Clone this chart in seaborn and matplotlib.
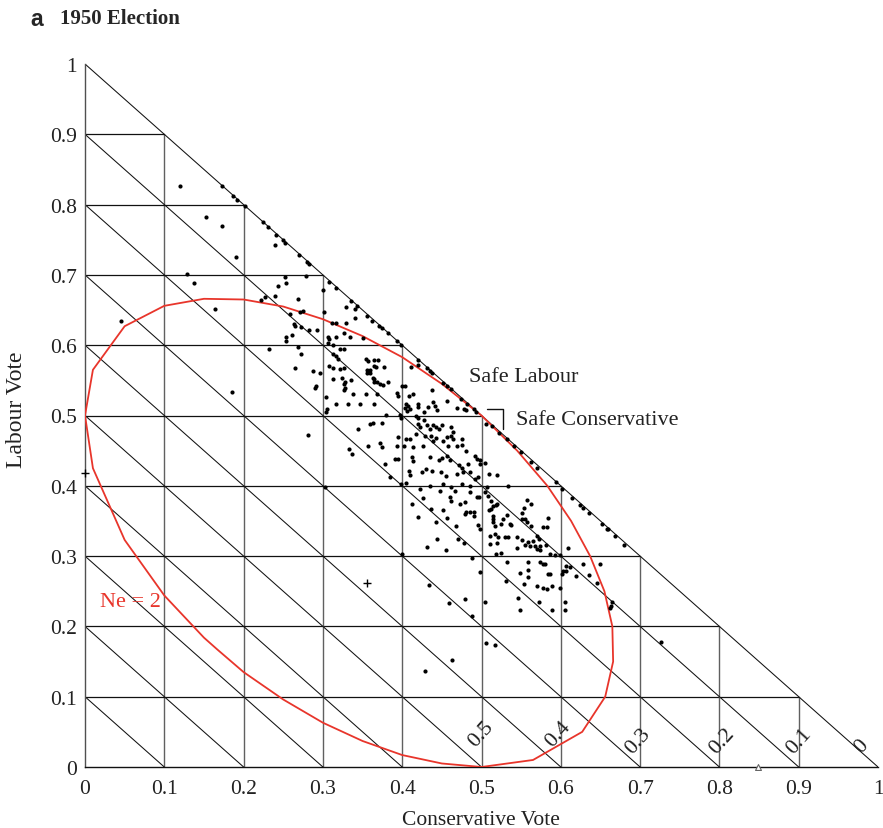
import matplotlib
matplotlib.use("Agg")
import matplotlib.pyplot as plt
import seaborn as sns
import pandas as pd

# ---------------- data ----------------
tick_values = [0, 0.1, 0.2, 0.3, 0.4, 0.5, 0.6, 0.7, 0.8, 0.9, 1]
tick_labels = ["0", "0.1", "0.2", "0.3", "0.4", "0.5", "0.6", "0.7", "0.8", "0.9", "1"]
other_vote_labels = ["0.5", "0.4", "0.3", "0.2", "0.1", "0"]

# Ne = 2 contour (Conservative, Labour) vertices
ne_con = [0, 0.01, 0.05, 0.10, 0.15, 0.20, 0.25, 0.30, 0.35, 0.40, 0.45, 0.50,
          0.545, 0.583, 0.613, 0.637, 0.655, 0.665, 0.666, 0.656, 0.627, 0.565, 0.50,
          0.45, 0.40, 0.35, 0.30, 0.25, 0.20, 0.167, 0.15, 0.10, 0.05, 0.01, 0]
ne_lab = [0.5, 0.565, 0.627, 0.656, 0.666, 0.665, 0.655, 0.637, 0.613, 0.583, 0.545, 0.50,
          0.45, 0.40, 0.35, 0.30, 0.25, 0.20, 0.15, 0.10, 0.05, 0.01, 0,
          0.005, 0.017, 0.037, 0.063, 0.096, 0.135, 0.167, 0.184, 0.244, 0.323, 0.425, 0.5]

# constituency results (Conservative share, Labour share)
seats = [
    (0.120, 0.827), (0.173, 0.827), (0.187, 0.812), (0.192, 0.807), (0.202, 0.798),
    (0.152, 0.783), (0.173, 0.770), (0.225, 0.775), (0.231, 0.768), (0.241, 0.757),
    (0.250, 0.749), (0.252, 0.746), (0.239, 0.743), (0.191, 0.726), (0.270, 0.728),
    (0.280, 0.719), (0.282, 0.716), (0.129, 0.701), (0.137, 0.688), (0.164, 0.651),
    (0.252, 0.697), (0.279, 0.698), (0.244, 0.684), (0.254, 0.688), (0.239, 0.670),
    (0.227, 0.668), (0.222, 0.664), (0.269, 0.666), (0.300, 0.679), (0.308, 0.690),
    (0.316, 0.682), (0.335, 0.663), (0.343, 0.656), (0.329, 0.655), (0.340, 0.651),
    (0.259, 0.644), (0.271, 0.647), (0.275, 0.649), (0.302, 0.647), (0.264, 0.630),
    (0.265, 0.628), (0.273, 0.626), (0.282, 0.621), (0.311, 0.632), (0.317, 0.632),
    (0.329, 0.632), (0.340, 0.638), (0.292, 0.622), (0.253, 0.612), (0.261, 0.615),
    (0.306, 0.611), (0.317, 0.611), (0.327, 0.618), (0.334, 0.611),
    (0.046, 0.634), (0.232, 0.595), (0.185, 0.534),
    (0.355, 0.642), (0.362, 0.635), (0.371, 0.627), (0.374, 0.624), (0.382, 0.617),
    (0.393, 0.606), (0.398, 0.600), (0.254, 0.606), (0.268, 0.598), (0.308, 0.609),
    (0.350, 0.610), (0.306, 0.603), (0.313, 0.600), (0.322, 0.595), (0.327, 0.595),
    (0.273, 0.587), (0.313, 0.587), (0.317, 0.585), (0.319, 0.581), (0.354, 0.581),
    (0.357, 0.578), (0.364, 0.579), (0.370, 0.579), (0.365, 0.571), (0.265, 0.567),
    (0.288, 0.564), (0.296, 0.560), (0.308, 0.571), (0.313, 0.567), (0.322, 0.566),
    (0.327, 0.568), (0.356, 0.565), (0.359, 0.565), (0.356, 0.561), (0.360, 0.561),
    (0.367, 0.569), (0.377, 0.569), (0.363, 0.554), (0.365, 0.552), (0.368, 0.547),
    (0.364, 0.547), (0.372, 0.545), (0.376, 0.543), (0.382, 0.547), (0.313, 0.552),
    (0.324, 0.554), (0.328, 0.547), (0.326, 0.545), (0.336, 0.550), (0.290, 0.539),
    (0.291, 0.542), (0.338, 0.531), (0.354, 0.531), (0.368, 0.531), (0.393, 0.532),
    (0.400, 0.542), (0.403, 0.542), (0.326, 0.536), (0.328, 0.539), (0.304, 0.527),
    (0.395, 0.528), (0.408, 0.528), (0.414, 0.531), (0.317, 0.516), (0.332, 0.516),
    (0.347, 0.516), (0.365, 0.516), (0.405, 0.516), (0.407, 0.513), (0.420, 0.516),
    (0.420, 0.512), (0.404, 0.510), (0.406, 0.507), (0.410, 0.509), (0.427, 0.505),
    (0.433, 0.512), (0.439, 0.519), (0.441, 0.514), (0.304, 0.505), (0.305, 0.509),
    (0.380, 0.501), (0.397, 0.501), (0.399, 0.497), (0.420, 0.497), (0.418, 0.500),
    (0.427, 0.493), (0.420, 0.579), (0.359, 0.488), (0.363, 0.489), (0.374, 0.489),
    (0.411, 0.569), (0.420, 0.572), (0.431, 0.567), (0.435, 0.563), (0.438, 0.560),
    (0.452, 0.546), (0.456, 0.542), (0.462, 0.538), (0.474, 0.523), (0.482, 0.517),
    (0.490, 0.509), (0.493, 0.505), (0.437, 0.536), (0.456, 0.520), (0.469, 0.511),
    (0.480, 0.508), (0.478, 0.509), (0.444, 0.508),
    (0.420, 0.488), (0.422, 0.483), (0.431, 0.486), (0.435, 0.481), (0.439, 0.486),
    (0.443, 0.484), (0.450, 0.487), (0.447, 0.481), (0.462, 0.483), (0.464, 0.477),
    (0.395, 0.469), (0.405, 0.467), (0.410, 0.467), (0.418, 0.474), (0.429, 0.471),
    (0.436, 0.471), (0.439, 0.464), (0.443, 0.468), (0.457, 0.469), (0.462, 0.471),
    (0.464, 0.466), (0.475, 0.467), (0.374, 0.455), (0.393, 0.457), (0.402, 0.456),
    (0.414, 0.455), (0.426, 0.457), (0.452, 0.464), (0.458, 0.457), (0.469, 0.457),
    (0.476, 0.458), (0.481, 0.450), (0.492, 0.442), (0.494, 0.438), (0.378, 0.431),
    (0.395, 0.438), (0.412, 0.441), (0.435, 0.441), (0.446, 0.436), (0.450, 0.439),
    (0.456, 0.443), (0.460, 0.437), (0.471, 0.429), (0.475, 0.426), (0.483, 0.431),
    (0.498, 0.437), (0.498, 0.431), (0.409, 0.421), (0.410, 0.415), (0.425, 0.419),
    (0.437, 0.421), (0.449, 0.420), (0.455, 0.414), (0.469, 0.417), (0.477, 0.419),
    (0.486, 0.419), (0.492, 0.410), (0.496, 0.412), (0.509, 0.417), (0.519, 0.415),
    (0.399, 0.402), (0.422, 0.396), (0.435, 0.400), (0.452, 0.402), (0.462, 0.398),
    (0.475, 0.402), (0.486, 0.400), (0.507, 0.398), (0.534, 0.400), (0.504, 0.432),
    (0.506, 0.488), (0.513, 0.485), (0.522, 0.475), (0.532, 0.466), (0.541, 0.457),
    (0.550, 0.448), (0.563, 0.434), (0.570, 0.425), (0.594, 0.405), (0.601, 0.395),
    (0.614, 0.382), (0.624, 0.373), (0.628, 0.369), (0.636, 0.362),
    (0.558, 0.380), (0.563, 0.374), (0.553, 0.369), (0.551, 0.362), (0.537, 0.344),
    (0.551, 0.353), (0.555, 0.353), (0.557, 0.348), (0.584, 0.354), (0.577, 0.341),
    (0.583, 0.341), (0.563, 0.343), (0.570, 0.329), (0.572, 0.324), (0.565, 0.322),
    (0.561, 0.315), (0.567, 0.315), (0.574, 0.315), (0.570, 0.310), (0.574, 0.309),
    (0.581, 0.316), (0.586, 0.303), (0.593, 0.301), (0.545, 0.312), (0.551, 0.323),
    (0.555, 0.316), (0.559, 0.320), (0.609, 0.311), (0.599, 0.301), (0.607, 0.286),
    (0.612, 0.284), (0.628, 0.289), (0.649, 0.289), (0.574, 0.291), (0.577, 0.289),
    (0.580, 0.289), (0.586, 0.275), (0.601, 0.275), (0.607, 0.279), (0.549, 0.276),
    (0.532, 0.291), (0.559, 0.292), (0.498, 0.277), (0.488, 0.298), (0.455, 0.309),
    (0.462, 0.379), (0.456, 0.354), (0.479, 0.377), (0.481, 0.363), (0.486, 0.363),
    (0.490, 0.363), (0.490, 0.357), (0.494, 0.384), (0.497, 0.384), (0.496, 0.344),
    (0.498, 0.339), (0.504, 0.391), (0.508, 0.385), (0.512, 0.379), (0.515, 0.371),
    (0.518, 0.373), (0.520, 0.374), (0.512, 0.367), (0.510, 0.366), (0.514, 0.357),
    (0.514, 0.353), (0.514, 0.348), (0.517, 0.343), (0.525, 0.346), (0.527, 0.353),
    (0.536, 0.346), (0.532, 0.358), (0.511, 0.329), (0.517, 0.331), (0.521, 0.327),
    (0.530, 0.327), (0.534, 0.327), (0.511, 0.317), (0.519, 0.318), (0.525, 0.305),
    (0.518, 0.303), (0.545, 0.327),
    (0.652, 0.346), (0.658, 0.339), (0.660, 0.338), (0.668, 0.328), (0.680, 0.316),
    (0.636, 0.273), (0.646, 0.262), (0.619, 0.271), (0.603, 0.279), (0.599, 0.254),
    (0.589, 0.257), (0.582, 0.253), (0.577, 0.254), (0.570, 0.258), (0.553, 0.260),
    (0.584, 0.274), (0.559, 0.270), (0.559, 0.280), (0.531, 0.264), (0.546, 0.241),
    (0.573, 0.234), (0.589, 0.224), (0.548, 0.224), (0.605, 0.235), (0.605, 0.224),
    (0.665, 0.235), (0.663, 0.229), (0.662, 0.226),
    (0.434, 0.259), (0.459, 0.233), (0.479, 0.239), (0.488, 0.215), (0.505, 0.235),
    (0.506, 0.176), (0.517, 0.174), (0.463, 0.152), (0.429, 0.137), (0.726, 0.178),
    (0.303, 0.398), (0.281, 0.472), (0.333, 0.452), (0.337, 0.445), (0.344, 0.481),
    (0.357, 0.457), (0.372, 0.461), (0.391, 0.438), (0.385, 0.413), (0.405, 0.404),
    (0.414, 0.435), (0.430, 0.424), (0.412, 0.374), (0.420, 0.356), (0.436, 0.367),
    (0.443, 0.349), (0.431, 0.313), (0.444, 0.324), (0.468, 0.343), (0.473, 0.374),
    (0.479, 0.360), (0.460, 0.384), (0.486, 0.391), (0.400, 0.303), (0.470, 0.325),
    (0.426, 0.382), (0.452, 0.366), (0.466, 0.393), (0.448, 0.392), (0.478, 0.318),
]
con_vote = [p[0] for p in seats]
lab_vote = [p[1] for p in seats]

plus_con = [0.356, 0.0]
plus_lab = [0.262, 0.418]
tri_con = [0.849]
tri_lab = [0.0]

df = pd.DataFrame({"Conservative": con_vote, "Labour": lab_vote})
ne_df = pd.DataFrame({"Conservative": ne_con, "Labour": ne_lab})

# ---------------- figure ----------------
sns.set_theme(style="white")
plt.rcParams['font.family'] = ['Liberation Serif', 'DejaVu Serif']

W, H = 883, 829
fig = plt.figure(figsize=(W / 100, H / 100), dpi=100)
ax = fig.add_axes([85 / W, (H - 768) / H, 793 / W, 703 / H])
ax.set_xlim(0, 1)
ax.set_ylim(0, 1)

# triangular grid
for v in tick_values[1:-1]:
    ax.plot([v, v], [0, 1 - v], color="#606060", lw=1.0, zorder=1)
    ax.plot([0, 1 - v], [v, v], color="#111111", lw=0.9, zorder=1)
for v in tick_values[1:]:
    ax.plot([0, v], [v, 0], color="#111111", lw=0.75, zorder=1)

# Ne = 2 curve
sns.lineplot(data=ne_df, x="Conservative", y="Labour", sort=False, estimator=None,
             color="#e8352b", lw=1.3, ax=ax, zorder=3)

# constituencies
sns.scatterplot(data=df, x="Conservative", y="Labour", s=9, color="black",
                linewidth=0, ax=ax, zorder=4)
ax.scatter(plus_con, plus_lab, marker="+", s=40, color="black", linewidths=1.0,
           zorder=5, clip_on=False)
ax.scatter(tri_con, tri_lab, marker="^", s=18, facecolors="white",
           edgecolors="#666666", linewidths=0.8, zorder=5, clip_on=False)

# spines / ticks
for s in ["top", "right"]:
    ax.spines[s].set_visible(False)
ax.spines["left"].set_color("#505050")
ax.spines["bottom"].set_color("#111111")
ax.spines["left"].set_linewidth(1.0)
ax.spines["bottom"].set_linewidth(1.0)
ax.set_xticks(tick_values)
ax.set_xticklabels(tick_labels)
ax.set_yticks(tick_values)
ax.set_yticklabels(tick_labels)
ax.tick_params(axis="both", direction="in", length=4, width=0.8, labelsize=15.5,
               colors="#222222", labelcolor="#222222")
ax.tick_params(axis="x", pad=9)
ax.tick_params(axis="y", pad=6)
ax.set_xlabel("")
ax.set_ylabel("")

# third-party labels along the bottom
lab_pos = [(0.499, 0.047), (0.597, 0.047), (0.697, 0.038), (0.803, 0.038), (0.900, 0.037), (0.979, 0.030)]
for txt, (px, py) in zip(other_vote_labels, lab_pos):
    ax.text(px, py, txt, rotation=48, ha="center", va="center", fontsize=16,
            color="#222222", zorder=6)

# annotations
ax.text(0.484, 0.555, "Safe Labour", fontsize=16, ha="left", va="center", color="#222222")
ax.text(0.5435, 0.495, "Safe Conservative", fontsize=16, ha="left", va="center", color="#222222")
ax.plot([0.5065, 0.5275, 0.5275], [0.509, 0.509, 0.481], color="#111111", lw=1.0, zorder=6)
ax.text(0.019, 0.235, "Ne = 2", fontsize=16, ha="left", va="center", color="#e8352b")

# labels and title
fig.text(481 / W, 1 - 821 / H, "Conservative Vote", ha="center", va="center", fontsize=15.5, color="#222222")
fig.text(17 / W, 1 - 410 / H, "Labour Vote", ha="center", va="center", rotation=90, fontsize=17, color="#222222")
fig.text(30 / W, 1 - 19 / H, "a", ha="left", va="center", fontsize=16.5, fontweight="bold",
         family=["Liberation Sans", "DejaVu Sans"])
fig.text(60 / W, 1 - 19 / H, "1950 Election", ha="left", va="center", fontsize=15, fontweight="bold")

fig.savefig("out.png", dpi=100, facecolor="white")
